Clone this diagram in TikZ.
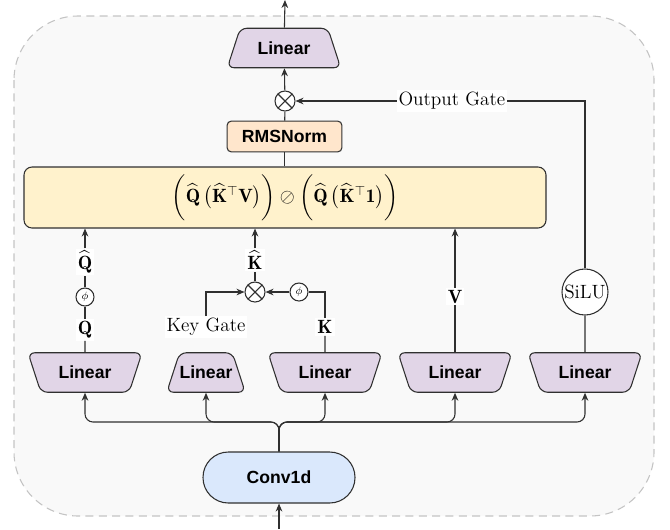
\documentclass[tikz,border=0pt]{standalone}
\usepackage{amsmath}
\usepackage{fontspec}
\newfontfamily\linfont{Liberation Sans}
\usetikzlibrary{shapes.geometric,arrows.meta}

\definecolor{linfill}{HTML}{E1D5E7}
\definecolor{rmsfill}{HTML}{FFE6CC}
\definecolor{attfill}{HTML}{FFF2CC}
\definecolor{convfill}{HTML}{DAE8FC}
\definecolor{outfill}{HTML}{F9F9F9}
\definecolor{outdraw}{HTML}{C4C4C4}
\definecolor{edge}{HTML}{303030}

\tikzset{
  blk/.style={draw=edge, line width=0.8pt, font=\linfont\bfseries\fontsize{13.2}{15}\selectfont, inner sep=0pt},
  linbox/.style={blk, trapezium, trapezium angle=72, trapezium stretches body, fill=linfill, rounded corners=5pt,
    text height=9.6pt, text depth=0pt, inner ysep=10pt, inner xsep=0pt},
  lindown/.style={linbox, shape border rotate=180, minimum width=85.5pt},
  lbl/.style={fill=white, inner sep=1.5pt, font=\Large},
  op/.style={circle, draw=edge, line width=0.8pt, fill=white, inner sep=0pt, minimum size=15pt,
    path picture={\draw[edge, line width=0.8pt] (path picture bounding box.north west) -- (path picture bounding box.south east)
      (path picture bounding box.north east) -- (path picture bounding box.south west);}},
  phi/.style={circle, draw=edge, line width=0.8pt, fill=white, inner sep=0pt, minimum size=13.5pt, font=\footnotesize},
  conn/.style={draw=edge, line width=0.8pt},
  arr/.style={conn, -{Stealth[length=6pt,width=5pt]}},
}

\begin{document}
\begin{tikzpicture}[x=0.75pt,y=-0.75pt]
\useasboundingbox (0,0) rectangle (670,529);
\draw[outdraw, fill=outfill, line width=0.8pt, dash pattern=on 6pt off 4pt, rounded corners=48pt] (14,16) rectangle (654,516);

% output side
\node[linbox, minimum width=85pt] (lout) at (284,48) {Linear};
\node[op] (mulo) at (285,101) {};
\node[blk, fill=rmsfill, rounded corners=3pt, minimum width=86pt, minimum height=23pt] (rms) at (284.5,136.5) {RMSNorm};
\node[draw=edge, line width=0.8pt, fill=attfill, rounded corners=6pt, minimum width=391.5pt, minimum height=45.75pt, font=\Large] (attn) at (285,197.5)
  {$\biggl(\widehat{\mathbf{Q}}\,\bigl(\widehat{\mathbf{K}}^{\top}\mathbf{V}\bigr)\biggr)\oslash\biggl(\widehat{\mathbf{Q}}\,\bigl(\widehat{\mathbf{K}}^{\top}\mathbf{1}\bigr)\biggr)$};

% projections
\node[lindown] (lq) at (85,372.5) {Linear};
\node[linbox, minimum width=57pt] (lg) at (206,372.5) {Linear};
\node[lindown] (lk) at (325,372.5) {Linear};
\node[lindown] (lv) at (455,372.5) {Linear};
\node[lindown] (lo) at (585,372.5) {Linear};
\node[blk, fill=convfill, rounded corners=19pt, minimum width=114pt, minimum height=38.25pt] (conv) at (279,477.5) {Conv1d};

% labels and feature maps
\node[lbl] (q) at (85,330) {$\mathbf{Q}$};
\node[phi] (phiq) at (85,297) {$\phi$};
\node[lbl] (qhat) at (85,262) {$\widehat{\mathbf{Q}}$};
\node[op] (mulk) at (255,292) {};
\node[lbl] (khat) at (255,260) {$\widehat{\mathbf{K}}$};
\node[phi] (phik) at (299,292) {$\phi$};
\node[lbl] (kg) at (206,327) {Key Gate};
\node[lbl] (k) at (325,327) {$\mathbf{K}$};
\node[circle, draw=edge, line width=0.8pt, fill=white, inner sep=0pt, minimum size=34.5pt, font=\Large] (silu) at (585,292) {SiLU};

\coordinate (top) at (285,0);
\coordinate (bot) at (279,529);
\coordinate (bus) at (279,422);

% input fan-out
\draw[arr] (bot) -- (conv);
\draw[arr, rounded corners=6pt] (conv.north) |- (lq |- bus) -- (lq.south);
\draw[arr, rounded corners=6pt] (conv.north) |- (lg |- bus) -- (lg.south);
\draw[arr, rounded corners=6pt] (conv.north) |- (lk |- bus) -- (lk.south);
\draw[arr, rounded corners=6pt] (conv.north) |- (lv |- bus) -- (lv.south);
\draw[arr, rounded corners=6pt] (conv.north) |- (lo |- bus) -- (lo.south);

% query
\draw[conn] (lq.north) -- (q);
\draw[conn] (q) -- (phiq);
\draw[conn] (phiq) -- (qhat);
\draw[arr] (qhat) -- (qhat |- attn.south);

% key with gate
\draw[arr] (kg) |- (mulk);
\draw[conn] (lk.north) -- (k);
\draw[conn] (k) |- (phik);
\draw[arr] (phik) -- (mulk);
\draw[conn] (mulk) -- (khat);
\draw[arr] (khat) -- (khat |- attn.south);

% value
\draw[arr] (lv.north) -- (lv.north |- attn.south) node[lbl, pos=0.45] (v) {$\mathbf{V}$};

% output gate
\draw[conn] (lo.north) -- (silu);
\draw[arr] (silu) |- (mulo) node[lbl, pos=0.73] (og) {Output Gate};
\draw[conn] (rms |- attn.north) -- (rms.south);
\draw[conn] (rms) -- (mulo);
\draw[arr] (mulo) -- (lout);
\draw[arr] (lout) -- (top);
\end{tikzpicture}
\end{document}
